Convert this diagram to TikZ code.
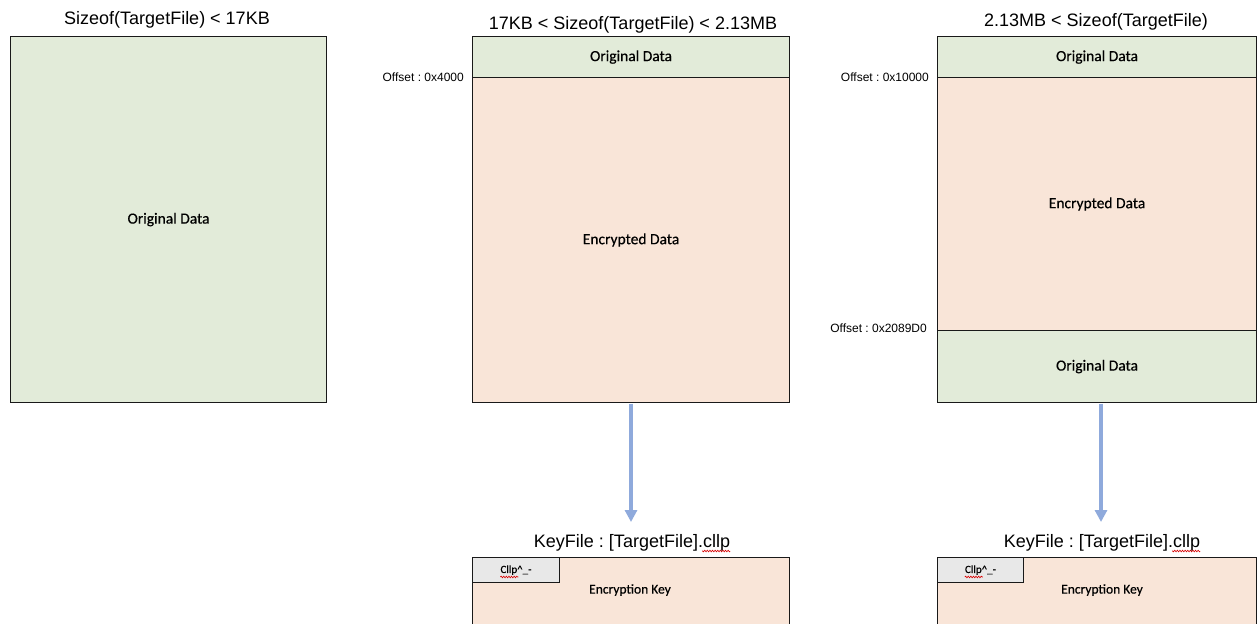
\documentclass[tikz,border=0pt]{standalone}
\usepackage{fontspec}
\setmainfont{Liberation Sans}
\newfontfamily\calfont[FakeBold=0.35]{Carlito}
\usetikzlibrary{arrows.meta,decorations.pathmorphing}
\definecolor{origfill}{HTML}{E2EBD9}
\definecolor{encfill}{HTML}{F9E5D8}
\definecolor{keyhdr}{HTML}{E8E8E8}
\definecolor{arrowblue}{HTML}{8FAADC}
\frenchspacing
\begin{document}
\begin{tikzpicture}[x=1pt,y=-1pt,
 region/.style={draw=black!90, line width=1.1pt, inner sep=0pt, anchor=north west, font=\calfont\fontsize{15.5}{18}\selectfont},
 orig/.style={region, fill=origfill},
 enc/.style={region, fill=encfill},
 hdr/.style={region, fill=keyhdr},
 title/.style={font=\fontsize{18}{21}\selectfont, inner sep=0pt, anchor=base},
 offs/.style={font=\fontsize{12}{14}\selectfont, inner sep=0pt, anchor=base east},
 keytext/.style={font=\calfont\fontsize{13.5}{15}\selectfont, inner sep=0pt},
 hdrtext/.style={font=\calfont\fontsize{11}{13}\selectfont, inner sep=0pt},
 flow/.style={draw=arrowblue, line width=3.2pt, -{Triangle[width=12pt,length=12pt]}},
 squig/.style={draw=red!85!black, line width=0.6pt, decorate, decoration={snake, amplitude=0.8pt, segment length=2.6pt}}
]
\useasboundingbox (0,0) rectangle (1259,624);
\clip (0,0) rectangle (1259,624);
\fill[white] (0,0) rectangle (1259,624);

% titles
\node[title] (LT) at (167,24) {Sizeof(TargetFile) < 17KB};
\node[title] (MT) at (633,29) {17KB < Sizeof(TargetFile) < 2.13MB};
\node[title] (RT) at (1096,26) {2.13MB < Sizeof(TargetFile)};

% left file
\node[orig, minimum width=316pt, minimum height=366pt] (L) at (10,36) {Original Data};

% middle file
\node[orig, minimum width=317pt, minimum height=41pt] (M1) at (472,36) {Original Data};
\node[enc, minimum width=317pt, minimum height=325pt] (M2) at (472,77) {Encrypted Data};

% right file
\node[orig, minimum width=319pt, minimum height=41pt] (R1) at (937,36) {Original Data};
\node[enc, minimum width=319pt, minimum height=253pt] (R2) at (937,77) {Encrypted Data};
\node[orig, minimum width=319pt, minimum height=72pt] (R3) at (937,330) {Original Data};

% offsets
\node[offs] (O1) at (464,81) {Offset : 0x4000};
\node[offs] (O2) at (929,81) {Offset : 0x10000};
\node[offs] (O3) at (927,332) {Offset : 0x2089D0};

% key file labels
\node[title] (MKL) at (632,547) {KeyFile : [TargetFile].cllp};
\node[title] (RKL) at (1102,547) {KeyFile : [TargetFile].cllp};
\draw[squig] ([yshift=-4pt]MKL.base east) -- ++(-28,0);
\draw[squig] ([yshift=-4pt]RKL.base east) -- ++(-28,0);

% key files
\node[enc, minimum width=317pt, minimum height=90pt] (MK) at (472,557) {};
\node[hdr, minimum width=87pt, minimum height=25pt] (MH) at (472,557) {};
\node[hdrtext] (MHT) at (MH.center) {Cllp\textasciicircum\_-};
\node[keytext] (MKT) at (630,590) {Encryption Key};
\draw[squig] ([yshift=-4pt]MHT.base west) -- ++(18,0);

\node[enc, minimum width=319pt, minimum height=90pt] (RK) at (937,557) {};
\node[hdr, minimum width=86pt, minimum height=25pt] (RH) at (937,557) {};
\node[hdrtext] (RHT) at (RH.center) {Cllp\textasciicircum\_-};
\node[keytext] (RKT) at (1102,590) {Encryption Key};
\draw[squig] ([yshift=-4pt]RHT.base west) -- ++(18,0);

% arrows
\coordinate (MA) at (631,522);
\coordinate (RA) at (1101,522);
\draw[flow] ([yshift=-0.6pt]M2.south -| MA) -- (MA);
\draw[flow] ([yshift=-0.6pt]R3.south -| RA) -- (RA);
\end{tikzpicture}
\end{document}
